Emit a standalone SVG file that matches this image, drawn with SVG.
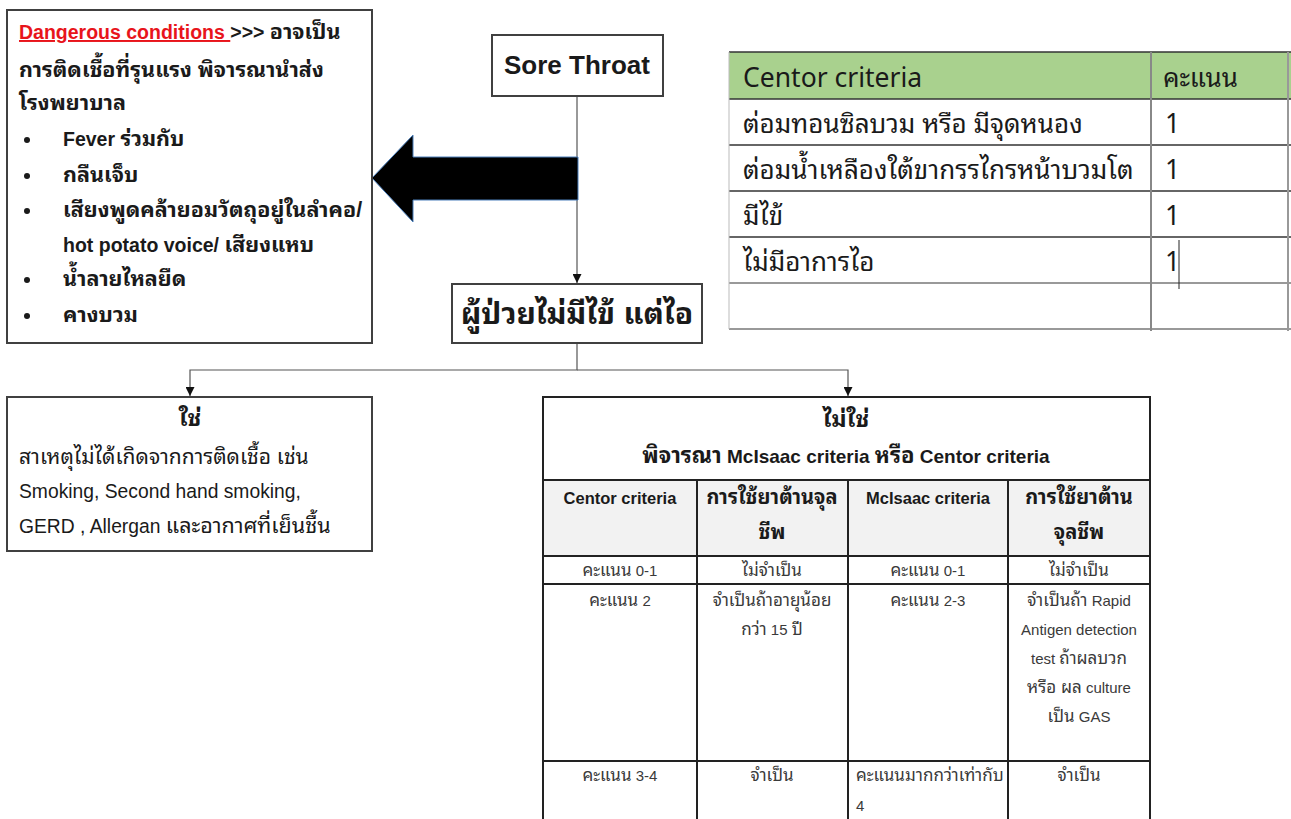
<svg xmlns="http://www.w3.org/2000/svg" width="1291" height="819" viewBox="0 0 1291 819">
<defs>
<style>
.t{font-family:"Liberation Sans","Noto Sans Thai Looped","Loma","Garuda","Noto Sans Thai","Noto Sans",sans-serif;fill:#1a1a1a}
.b{font-weight:bold}
.box{fill:#fff;stroke:#404040;stroke-width:2}
.conn{fill:none;stroke:#555;stroke-width:1.2}
.tg{font-family:"Noto Sans","Noto Sans Thai Looped","Loma","Noto Sans Thai","Liberation Sans",sans-serif;fill:#1a1a1a;font-size:26.5px}
.tgt{font-size:26px}
.cell{font-family:"Liberation Sans","Noto Sans Thai Looped","Loma","Noto Sans Thai",sans-serif;fill:#3a3a3a;font-size:15px}
.ct{font-size:17px}
.grid{stroke:#222;stroke-width:2}
.d{font-size:19.5px}
.dt{font-size:21.5px}
</style>
<marker id="ah" viewBox="0 0 10 10" refX="10" refY="5" markerWidth="9" markerHeight="9" markerUnits="userSpaceOnUse" orient="auto">
<path d="M0,0 L10,5 L0,10 z" fill="#111"/>
</marker>
</defs>
<rect width="1291" height="819" fill="#fff"/>

<g id="connectors">
<line class="conn" x1="577" y1="96" x2="577" y2="283" marker-end="url(#ah)"/>
<polyline class="conn" points="577,343 577,370 190,370 190,396" marker-end="url(#ah)"/>
<polyline class="conn" points="577,370 848,370 848,396" marker-end="url(#ah)"/>
<polygon id="big-arrow" points="372,178 413,135 413,157 578,157 578,200 413,200 413,222" fill="#000" stroke="#4a7ebb" stroke-width="1"/>
</g>

<g id="dangerous">
<rect class="box" x="7" y="10" width="365" height="333"/>
<text class="t b d" x="19" y="39"><tspan fill="#e8141b" text-decoration="underline">Dangerous conditions </tspan><tspan>&gt;&gt;&gt; </tspan><tspan class="dt">อาจเป็น</tspan></text>
<text class="t b dt" x="19" y="77">การติดเชื้อที่รุนแรง พิจารณานำส่ง</text>
<text class="t b dt" x="19" y="110">โรงพยาบาล</text>
<g fill="#1a1a1a">
<circle cx="27" cy="140" r="3"/><circle cx="27" cy="176" r="3"/><circle cx="27" cy="211" r="3"/><circle cx="27" cy="280" r="3"/><circle cx="27" cy="316" r="3"/>
</g>
<text class="t b d" x="63" y="146">Fever <tspan class="dt">ร่วมกับ</tspan></text>
<text class="t b dt" x="63" y="182">กลืนเจ็บ</text>
<text class="t b dt" x="63" y="217">เสียงพูดคล้ายอมวัตถุอยู่ในลำคอ/</text>
<text class="t b d" x="63" y="252">hot potato voice/ <tspan class="dt">เสียงแหบ</tspan></text>
<text class="t b dt" x="63" y="286">น้ำลายไหลยืด</text>
<text class="t b dt" x="63" y="322">คางบวม</text>
</g>

<g id="sore-throat">
<rect class="box" x="492" y="35" width="171" height="61"/>
<text class="t b" x="577" y="74" font-size="26" text-anchor="middle">Sore Throat</text>
</g>

<g id="no-fever">
<rect class="box" x="452" y="284" width="250" height="59"/>
<text class="t b" x="577" y="324" font-size="30" text-anchor="middle">ผู้ป่วยไม่มีไข้ แต่ไอ</text>
</g>

<g id="centor-table">
<rect x="729" y="52" width="562" height="47" fill="#a9d18e"/>
<line x1="729" y1="52" x2="1291" y2="52" stroke="#333" stroke-width="1.5"/>
<line x1="729" y1="99" x2="1291" y2="99" stroke="#333" stroke-width="1.5"/>
<line x1="729" y1="145" x2="1291" y2="145" stroke="#333" stroke-width="1.5"/>
<line x1="729" y1="191" x2="1291" y2="191" stroke="#333" stroke-width="1.5"/>
<line x1="729" y1="237" x2="1291" y2="237" stroke="#333" stroke-width="1.5"/>
<line x1="729" y1="283" x2="1291" y2="283" stroke="#777" stroke-width="1.5"/>
<line x1="729" y1="329" x2="1291" y2="329" stroke="#777" stroke-width="1.5"/>
<line x1="729" y1="52" x2="729" y2="329" stroke="#bbb" stroke-width="1"/>
<line x1="1151" y1="52" x2="1151" y2="331" stroke="#888" stroke-width="2"/>
<line x1="1288" y1="52" x2="1288" y2="331" stroke="#999" stroke-width="2"/>
<line x1="1179" y1="240" x2="1179" y2="289" stroke="#222" stroke-width="1"/>
<text class="tg" x="743" y="87">Centor criteria</text>
<text class="tg tgt" x="1163" y="87">คะแนน</text>
<text class="tg tgt" x="743" y="133">ต่อมทอนซิลบวม หรือ มีจุดหนอง</text>
<text class="tg tgt" x="743" y="179">ต่อมน้ำเหลืองใต้ขากรรไกรหน้าบวมโต</text>
<text class="tg tgt" x="743" y="225">มีไข้</text>
<text class="tg tgt" x="743" y="271">ไม่มีอาการไอ</text>
<text class="tg" x="1165" y="133">1</text>
<text class="tg" x="1165" y="179">1</text>
<text class="tg" x="1165" y="225">1</text>
<text class="tg" x="1165" y="271">1</text>
</g>

<g id="yes">
<rect class="box" x="7" y="397" width="365" height="154"/>
<text class="t b" x="190" y="426" font-size="23" text-anchor="middle">ใช่</text>
<text class="t" x="19" y="464" font-size="21">สาเหตุไม่ได้เกิดจากการติดเชื้อ เช่น</text>
<text class="t" x="19" y="498" font-size="19.3">Smoking, Second hand smoking,</text>
<text class="t" x="19" y="533" font-size="19.3">GERD , Allergan <tspan class="dt">และอากาศที่เย็นชื้น</tspan></text>
</g>

<g id="no">
<rect x="543" y="480" width="607" height="76" fill="#f2f2f2"/>
<rect x="543" y="397" width="607" height="430" fill="none" stroke="#222" stroke-width="2"/>
<line class="grid" x1="543" y1="480" x2="1150" y2="480" stroke-width="2.5"/>
<line class="grid" x1="543" y1="556" x2="1150" y2="556" stroke-width="1.5"/>
<line class="grid" x1="543" y1="584" x2="1150" y2="584"/>
<line class="grid" x1="543" y1="761" x2="1150" y2="761"/>
<line class="grid" x1="697" y1="480" x2="697" y2="819"/>
<line class="grid" x1="848" y1="480" x2="848" y2="819"/>
<line class="grid" x1="1008" y1="480" x2="1008" y2="819"/>
<text class="t b" x="846" y="427" font-size="23" text-anchor="middle">ไม่ใช่</text>
<text class="t b" x="846" y="463" font-size="19" text-anchor="middle"><tspan font-size="22">พิจารณา</tspan> McIsaac criteria <tspan font-size="22">หรือ</tspan> Centor criteria</text>
<text class="t b" x="620" y="504" font-size="16.5" text-anchor="middle">Centor criteria</text>
<text class="t b" x="772" y="504" font-size="20" text-anchor="middle">การใช้ยาต้านจุล</text>
<text class="t b" x="772" y="539" font-size="20" text-anchor="middle">ชีพ</text>
<text class="t b" x="928" y="504" font-size="16.5" text-anchor="middle">McIsaac criteria</text>
<text class="t b" x="1079" y="504" font-size="20" text-anchor="middle">การใช้ยาต้าน</text>
<text class="t b" x="1079" y="539" font-size="20" text-anchor="middle">จุลชีพ</text>
<text class="cell" x="620" y="576" text-anchor="middle"><tspan class="ct">คะแนน</tspan> 0-1</text>
<text class="cell ct" x="772" y="576" text-anchor="middle">ไม่จำเป็น</text>
<text class="cell" x="928" y="576" text-anchor="middle"><tspan class="ct">คะแนน</tspan> 0-1</text>
<text class="cell ct" x="1079" y="576" text-anchor="middle">ไม่จำเป็น</text>
<text class="cell" x="620" y="606" text-anchor="middle"><tspan class="ct">คะแนน</tspan> 2</text>
<text class="cell ct" x="772" y="606" text-anchor="middle">จำเป็นถ้าอายุน้อย</text>
<text class="cell" x="772" y="635" text-anchor="middle"><tspan class="ct">กว่า</tspan> 15 <tspan class="ct">ปี</tspan></text>
<text class="cell" x="928" y="606" text-anchor="middle"><tspan class="ct">คะแนน</tspan> 2-3</text>
<text class="cell" x="1079" y="606" text-anchor="middle"><tspan class="ct">จำเป็นถ้า</tspan> Rapid</text>
<text class="cell" x="1079" y="635" text-anchor="middle">Antigen detection</text>
<text class="cell" x="1079" y="664" text-anchor="middle">test <tspan class="ct">ถ้าผลบวก</tspan></text>
<text class="cell" x="1079" y="693" text-anchor="middle"><tspan class="ct">หรือ ผล</tspan> culture</text>
<text class="cell" x="1079" y="722" text-anchor="middle"><tspan class="ct">เป็น</tspan> GAS</text>
<text class="cell" x="620" y="781" text-anchor="middle"><tspan class="ct">คะแนน</tspan> 3-4</text>
<text class="cell ct" x="772" y="781" text-anchor="middle">จำเป็น</text>
<text class="cell ct" x="856" y="781">คะแนนมากกว่าเท่ากับ</text>
<text class="cell" x="856" y="811">4</text>
<text class="cell ct" x="1079" y="781" text-anchor="middle">จำเป็น</text>
</g>
</svg>
